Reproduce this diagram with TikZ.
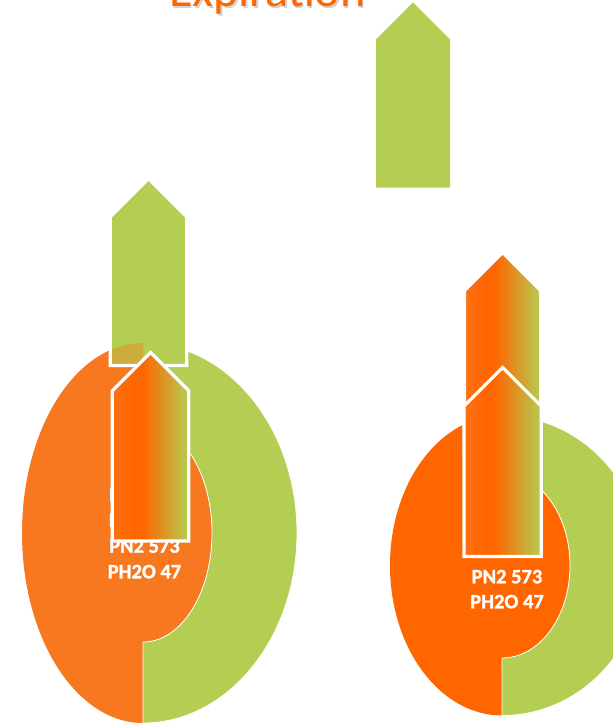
\documentclass[tikz,border=0pt]{standalone}
\usepackage{fontspec}
\setmainfont{Carlito}
\newfontfamily\valfont{Carlito Bold}[FakeBold=1.2]
\definecolor{orL}{RGB}{247,120,30}
\definecolor{orR}{RGB}{255,102,0}
\definecolor{orA}{RGB}{255,112,18}
\definecolor{grn}{RGB}{179,206,82}
\pgfdeclarehorizontalshading{ogshade}{100bp}{color(0bp)=(orA); color(25bp)=(orA); color(40bp)=(orR); color(45bp)=(orR); color(75bp)=(grn); color(100bp)=(grn)}
\tikzset{
  ringline/.style={draw=white, line width=0.8pt},
  arrowbox/.style={draw=white, line width=3.2pt, line join=miter},
  gradarrow/.style={arrowbox, shading=ogshade},
  valtext/.style={text=white, font=\valfont\fontsize{20.5}{24}\selectfont, inner sep=0pt, anchor=base},
  titletext/.style={font=\fontsize{48}{50}\selectfont, inner sep=0pt, anchor=base},
}
\begin{document}
\begin{tikzpicture}[x=1pt,y=1pt]
\path[use as bounding box] (0,0) rectangle (613,724);
\clip (0,0) rectangle (613,724);

% title
\node[titletext, text=black!50, opacity=0.35] (titleshadow) at (269,715.6) {Expiration};
\node[titletext, text=orR] (title) at (267.5,717.3) {Expiration};

% top green arrow
\fill[grn] (376,536.3) -- (376,684.5) -- (413,721.5) -- (450,684.5) -- (450,536.3) -- cycle;

% ---------- left diagram ----------
\fill[orL] (143,381) arc[start angle=90,end angle=270,x radius=121,y radius=190]
  -- (143,82) arc[start angle=-90,end angle=90,x radius=69,y radius=109] -- cycle;
\path[fill=grn, ringline] (143,381) arc[start angle=90,end angle=-90,x radius=154,y radius=190]
  -- (143,82) arc[start angle=-90,end angle=90,x radius=69,y radius=109] -- cycle;

\node[valtext] (l1) at (144.5,222.5) {PO2 100};
\node[valtext] (l2) at (144.5,196.9) {PCO2 40};
\node[valtext] (l3) at (144.5,171.3) {PN2 573};
\node[valtext] (l4) at (144.5,145.7) {PH2O 47};

% left back green arrow
\fill[grn] (110.2,358.5) -- (110.2,507.2) -- (148.5,545.5) -- (186.8,507.2) -- (186.8,358.5) -- cycle;
\begin{scope}
  \clip (110.2,358.5) -- (110.2,507.2) -- (148.5,545.5) -- (186.8,507.2) -- (186.8,358.5) -- cycle;
  \fill[orL, opacity=0.4] (143,381) arc[start angle=90,end angle=270,x radius=121,y radius=190] -- cycle;
\end{scope}
\draw[arrowbox] (110.2,358.5) -- (110.2,507.2) -- (148.5,545.5) -- (186.8,507.2) -- (186.8,358.5) -- cycle;

% left front gradient arrow
\shadedraw[gradarrow] (112.3,183) -- (112.3,333.25) -- (150.55,371.5) -- (188.8,333.25) -- (188.8,183) -- cycle;

% ---------- right diagram ----------
\fill[orR] (502,308.5) arc[start angle=90,end angle=270,x radius=112,y radius=150]
  -- (502,66) arc[start angle=-90,end angle=90,x radius=68,y radius=92.5] -- cycle;
\path[fill=grn, ringline] (502,308.5) arc[start angle=90,end angle=-90,x radius=142,y radius=150]
  -- (502,66) arc[start angle=-90,end angle=90,x radius=68,y radius=92.5] -- cycle;

\node[valtext] (r1) at (507,191.7) {PO2 100};
\node[valtext] (r2) at (507,167.2) {PCO2 40};
\node[valtext] (r3) at (507,140.7) {PN2 573};
\node[valtext] (r4) at (507,115.7) {PH2O 47};

% right back gradient arrow
\shadedraw[gradarrow] (464.5,274) -- (464.5,433.35) -- (502.65,471.5) -- (540.8,433.35) -- (540.8,274) -- cycle;
% right front gradient arrow
\shadedraw[gradarrow] (464,167.5) -- (464,317.85) -- (502.65,356.5) -- (541.3,317.85) -- (541.3,167.5) -- cycle;
\end{tikzpicture}
\end{document}
